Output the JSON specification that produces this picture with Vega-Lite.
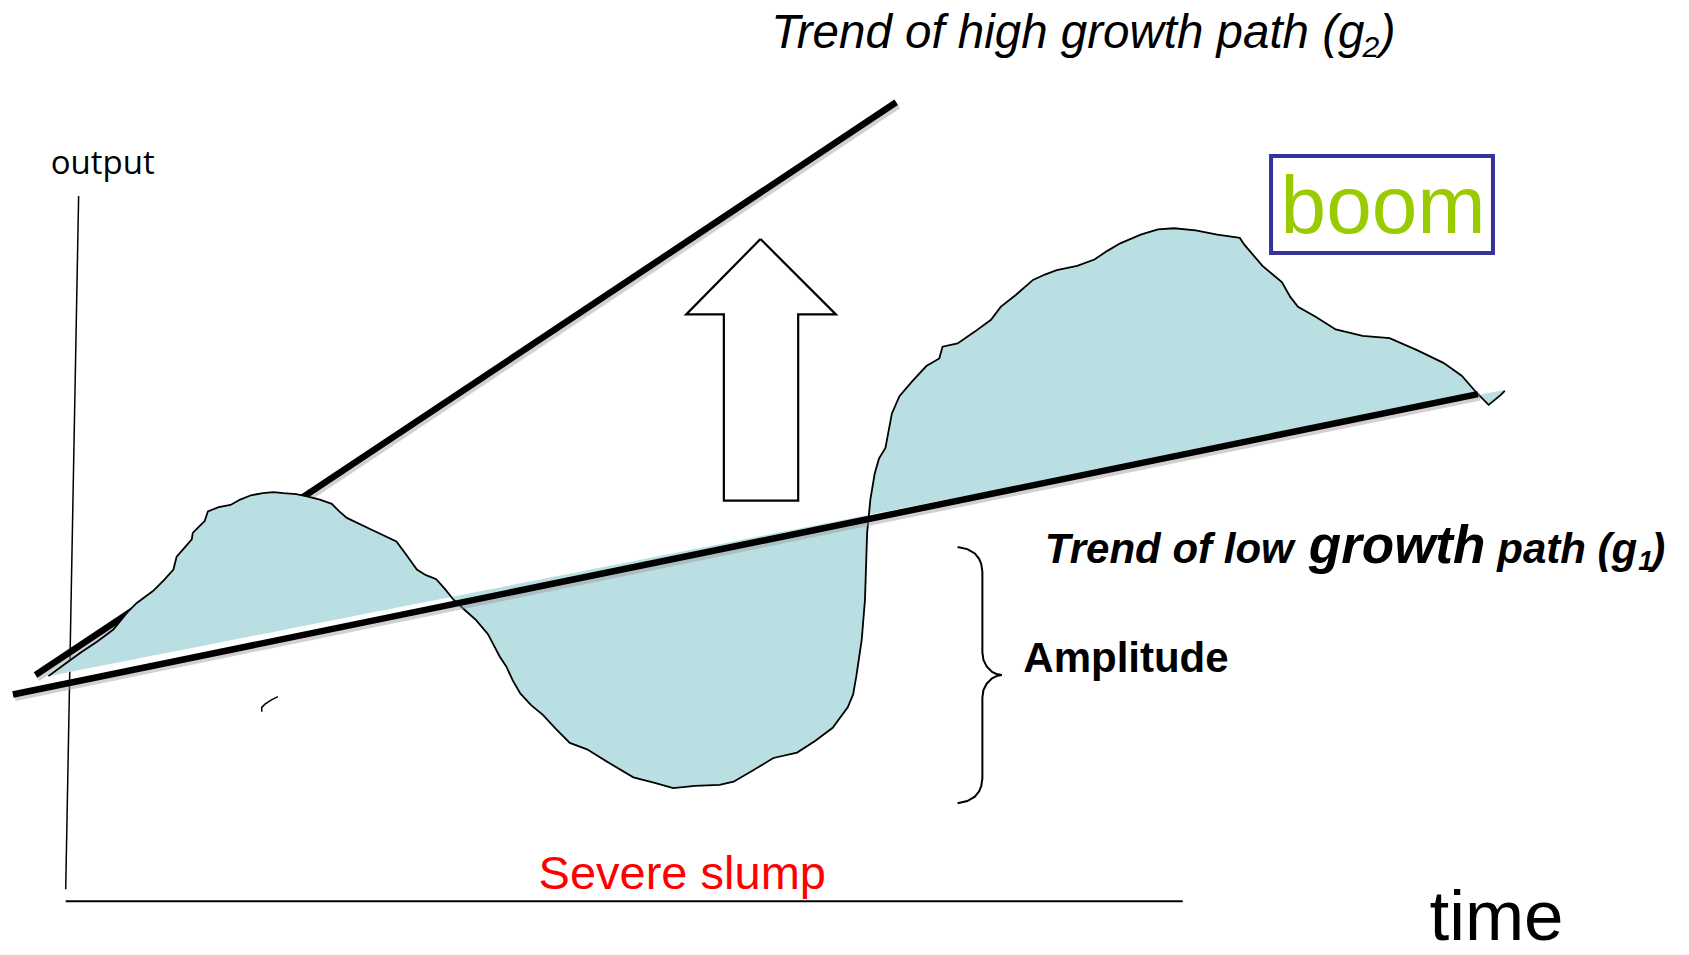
{
  "$schema": "https://vega.github.io/schema/vega-lite/v6.json",
  "width": 1689,
  "height": 955,
  "autosize": {"type": "none"},
  "padding": 0,
  "background": "white",
  "view": {"stroke": null},
  "datasets": {
    "cycle": [
      {"x":45,"y":628,"base":628},{"x":60,"y":617,"base":625.0},{"x":75,"y":606,"base":622.1},{"x":90,"y":596,"base":619.1},
      {"x":105,"y":585,"base":616.2},{"x":118,"y":569,"base":613.6},{"x":127,"y":560,"base":611.9},{"x":142,"y":549,"base":608.9},
      {"x":152,"y":539,"base":606.9},{"x":161,"y":529,"base":605.2},{"x":164,"y":517,"base":604.6},{"x":172,"y":508,"base":603.0},
      {"x":178,"y":501,"base":601.8},{"x":179,"y":495,"base":601.6},{"x":185,"y":489,"base":600.5},{"x":190,"y":484,"base":599.5},
      {"x":193,"y":475,"base":598.9},{"x":203,"y":471,"base":596.9},{"x":214,"y":469,"base":594.7},{"x":223,"y":464,"base":593.0},
      {"x":233,"y":460,"base":591.0},{"x":244,"y":458,"base":588.8},{"x":254,"y":457,"base":586.9},{"x":263,"y":458,"base":585.1},
      {"x":275,"y":459,"base":582.7},{"x":285,"y":461,"base":580.8},{"x":297,"y":464,"base":578.4},{"x":308,"y":468,"base":576.3},
      {"x":315,"y":475,"base":574.9},{"x":322,"y":481,"base":573.5},{"x":345,"y":492,"base":569.0},{"x":368,"y":503,"base":564.4},
      {"x":377,"y":515,"base":562.7},{"x":387,"y":529,"base":560.7},{"x":395,"y":534,"base":559.1},{"x":405,"y":538,"base":557.2},
      {"x":413,"y":547,"base":555.6},{"x":421,"y":557,"base":554.0},{"x":432,"y":567,"base":551.9},{"x":442,"y":576,"base":549.9},
      {"x":453,"y":589,"base":547.7},{"x":464,"y":610,"base":545.6},{"x":470,"y":619,"base":544.4},{"x":476,"y":632,"base":543.2},
      {"x":483,"y":644,"base":541.8},{"x":493,"y":655,"base":539.9},{"x":504,"y":664,"base":537.7},{"x":516,"y":677,"base":535.3},
      {"x":529,"y":690,"base":532.8},{"x":545,"y":696,"base":529.6},{"x":566,"y":709,"base":525.5},{"x":588,"y":722,"base":521.2},
      {"x":607,"y":727,"base":517.4},{"x":625,"y":732,"base":513.9},{"x":645,"y":730,"base":509.9},{"x":668,"y":729,"base":505.4},
      {"x":681,"y":726,"base":502.9},{"x":700,"y":715,"base":499.1},{"x":718,"y":704,"base":495.6},{"x":740,"y":699,"base":491.3},
      {"x":757,"y":688,"base":487.9},{"x":773,"y":676,"base":484.8},{"x":787,"y":657,"base":482.0},{"x":792,"y":645,"base":481.0},
      {"x":795,"y":628,"base":480.4},{"x":800,"y":594,"base":479.5},{"x":803,"y":557,"base":478.9},{"x":805,"y":495,"base":478.5},
      {"x":808,"y":464,"base":477.9},{"x":812,"y":440,"base":477.1},{"x":816,"y":426,"base":476.3},{"x":822,"y":416,"base":475.1},
      {"x":828,"y":384,"base":473.9},{"x":835,"y":368,"base":472.6},{"x":847,"y":354,"base":470.2},{"x":860,"y":340,"base":467.6},
      {"x":872,"y":333,"base":465.3},{"x":875,"y":322,"base":464.7},{"x":889,"y":319,"base":461.9},{"x":905,"y":308,"base":458.8},
      {"x":920,"y":297,"base":455.8},{"x":929,"y":285,"base":454.1},{"x":943,"y":274,"base":451.3},{"x":959,"y":260,"base":448.2},
      {"x":970,"y":255,"base":446.0},{"x":981,"y":251,"base":443.8},{"x":1000,"y":247,"base":440.1},{"x":1016,"y":241,"base":436.9},
      {"x":1028,"y":233,"base":434.6},{"x":1040,"y":226,"base":432.2},{"x":1059,"y":218,"base":428.5},{"x":1075,"y":213,"base":425.3},
      {"x":1090,"y":212,"base":422.4},{"x":1110,"y":214,"base":418.5},{"x":1130,"y":218,"base":414.5},{"x":1151,"y":221,"base":410.4},
      {"x":1155,"y":227,"base":409.6},{"x":1172,"y":247,"base":406.3},{"x":1190,"y":262,"base":402.7},{"x":1198,"y":276,"base":401.1},
      {"x":1205,"y":285,"base":399.8},{"x":1221,"y":294,"base":396.6},{"x":1240,"y":306,"base":392.9},{"x":1265,"y":312,"base":388.0},
      {"x":1290,"y":314,"base":383.0},{"x":1315,"y":325,"base":378.1},{"x":1340,"y":337,"base":373.2},{"x":1357,"y":349,"base":369.9},
      {"x":1371,"y":365,"base":367.1},{"x":1382,"y":376,"base":365.0},{"x":1393,"y":367,"base":362.8},{"x":1397,"y":363,"base":362.0}
    ],
    "g1": [{"x":12,"y":645},{"x":1372,"y":366}],
    "g2": [{"x":33,"y":627},{"x":832,"y":95}],
    "vaxis": [{"x":73,"y":182},{"x":61,"y":826}],
    "haxis": [{"x":61,"y":837},{"x":1098,"y":837}],
    "arrow": [
      {"o":1,"x":706,"y":222},{"o":2,"x":776,"y":292},{"o":3,"x":741,"y":292},{"o":4,"x":741,"y":465},
      {"o":5,"x":672,"y":465},{"o":6,"x":672,"y":292},{"o":7,"x":637,"y":292},{"o":8,"x":706,"y":222}
    ],
    "brace": [
      {"o":1,"x":889,"y":508},{"o":2,"x":898,"y":510},{"o":3,"x":905,"y":514},{"o":4,"x":909,"y":519},{"o":5,"x":911,"y":524},
      {"o":6,"x":912,"y":531},{"o":7,"x":912,"y":606},{"o":8,"x":913,"y":613},{"o":9,"x":916,"y":619},{"o":10,"x":921,"y":624},
      {"o":11,"x":925,"y":626},{"o":12,"x":930,"y":627},{"o":13,"x":925,"y":628},{"o":14,"x":921,"y":630},{"o":15,"x":916,"y":635},
      {"o":16,"x":913,"y":641},{"o":17,"x":912,"y":648},{"o":18,"x":912,"y":723},{"o":19,"x":911,"y":730},{"o":20,"x":909,"y":735},
      {"o":21,"x":905,"y":740},{"o":22,"x":898,"y":744},{"o":23,"x":889,"y":746}
    ],
    "squiggle": [
      {"o":1,"x":243,"y":661},{"o":2,"x":243,"y":657},{"o":3,"x":246,"y":654},{"o":4,"x":252,"y":650},{"o":5,"x":258,"y":647}
    ],
    "box": [{"x":1180,"x2":1386,"y":145,"y2":235}],
    "labels": [
      {"id":"output","x":47,"y":162,"text":"output"},
      {"id":"high","x":716,"y":45,"text":"Trend of high growth path (g"},
      {"id":"high_sub","x":1265,"y":53,"text":"2"},
      {"id":"high_close","x":1281,"y":45,"text":")"},
      {"id":"boom","x":1284,"y":216,"text":"boom"},
      {"id":"low1","x":970,"y":523,"text":"Trend of low"},
      {"id":"low2","x":1215,"y":523,"text":"growth"},
      {"id":"low3","x":1390,"y":523,"text":"path (g"},
      {"id":"low_sub","x":1521,"y":529,"text":"1"},
      {"id":"low_close","x":1533,"y":523,"text":")"},
      {"id":"amp","x":950,"y":624,"text":"Amplitude"},
      {"id":"slump","x":500,"y":826,"text":"Severe slump"},
      {"id":"time","x":1327,"y":873,"text":"time"}
    ]
  },
  "encoding": {
    "x": {"field": "x", "type": "quantitative", "axis": null, "scale": {"domain": [0, 1568], "nice": false, "zero": false}},
    "y": {"field": "y", "type": "quantitative", "axis": null, "scale": {"domain": [0, 887], "nice": false, "zero": false, "reverse": true}}
  },
  "layer": [
    {"data": {"name": "vaxis"}, "mark": {"type": "line", "color": "black", "strokeWidth": 1.5}},
    {"data": {"name": "haxis"}, "mark": {"type": "line", "color": "black", "strokeWidth": 2}},
    {"data": {"name": "g2"}, "mark": {"type": "line", "color": "#999999", "strokeWidth": 7, "opacity": 0.45, "xOffset": 2, "yOffset": 3}},
    {"data": {"name": "g2"}, "mark": {"type": "line", "color": "black", "strokeWidth": 6.5, "strokeCap": "butt"}},
    {"data": {"name": "cycle"}, "mark": {"type": "area", "color": "#badfe3", "opacity": 1},
     "encoding": {"y2": {"field": "base"}}},
    {"data": {"name": "cycle"}, "mark": {"type": "line", "color": "black", "strokeWidth": 1.8}},
    {"data": {"name": "g1"}, "mark": {"type": "line", "color": "#999999", "strokeWidth": 7, "opacity": 0.45, "xOffset": 2, "yOffset": 3}},
    {"data": {"name": "g1"}, "mark": {"type": "line", "color": "black", "strokeWidth": 6.5, "strokeCap": "butt"}},
    {"data": {"name": "arrow"}, "mark": {"type": "line", "color": "black", "strokeWidth": 2.2},
     "encoding": {"order": {"field": "o", "type": "quantitative"}}},
    {"data": {"name": "brace"}, "mark": {"type": "line", "color": "black", "strokeWidth": 2},
     "encoding": {"order": {"field": "o", "type": "quantitative"}}},
    {"data": {"name": "squiggle"}, "mark": {"type": "line", "color": "black", "strokeWidth": 1.5},
     "encoding": {"order": {"field": "o", "type": "quantitative"}}},
    {"data": {"name": "box"}, "mark": {"type": "rect", "fill": "white", "stroke": "#333399", "strokeWidth": 4},
     "encoding": {"x2": {"field": "x2"}, "y2": {"field": "y2"}}},
    {"data": {"name": "labels"}, "transform": [{"filter": "datum.id === 'output'"}],
     "mark": {"type": "text", "align": "left", "baseline": "alphabetic", "font": "Open Sans", "fontSize": 33, "color": "black"},
     "encoding": {"text": {"field": "text"}}},
    {"data": {"name": "labels"}, "transform": [{"filter": "datum.id === 'high' || datum.id === 'high_close'"}],
     "mark": {"type": "text", "align": "left", "baseline": "alphabetic", "font": "Liberation Sans", "fontStyle": "italic", "fontSize": 47.5, "color": "black"},
     "encoding": {"text": {"field": "text"}}},
    {"data": {"name": "labels"}, "transform": [{"filter": "datum.id === 'high_sub'"}],
     "mark": {"type": "text", "align": "left", "baseline": "alphabetic", "font": "Liberation Sans", "fontStyle": "italic", "fontSize": 30, "color": "black"},
     "encoding": {"text": {"field": "text"}}},
    {"data": {"name": "labels"}, "transform": [{"filter": "datum.id === 'boom'"}],
     "mark": {"type": "text", "align": "center", "baseline": "alphabetic", "font": "Liberation Sans", "fontSize": 82, "color": "#99cc00"},
     "encoding": {"text": {"field": "text"}}},
    {"data": {"name": "labels"}, "transform": [{"filter": "datum.id === 'low1' || datum.id === 'low3' || datum.id === 'low_close'"}],
     "mark": {"type": "text", "align": "left", "baseline": "alphabetic", "font": "Liberation Sans", "fontStyle": "italic", "fontWeight": "bold", "fontSize": 42, "color": "black"},
     "encoding": {"text": {"field": "text"}}},
    {"data": {"name": "labels"}, "transform": [{"filter": "datum.id === 'low2'"}],
     "mark": {"type": "text", "align": "left", "baseline": "alphabetic", "font": "Liberation Sans", "fontStyle": "italic", "fontWeight": "bold", "fontSize": 53, "color": "black"},
     "encoding": {"text": {"field": "text"}}},
    {"data": {"name": "labels"}, "transform": [{"filter": "datum.id === 'low_sub'"}],
     "mark": {"type": "text", "align": "left", "baseline": "alphabetic", "font": "Liberation Sans", "fontStyle": "italic", "fontWeight": "bold", "fontSize": 27, "color": "black"},
     "encoding": {"text": {"field": "text"}}},
    {"data": {"name": "labels"}, "transform": [{"filter": "datum.id === 'amp'"}],
     "mark": {"type": "text", "align": "left", "baseline": "alphabetic", "font": "Liberation Sans", "fontWeight": "bold", "fontSize": 42, "color": "black"},
     "encoding": {"text": {"field": "text"}}},
    {"data": {"name": "labels"}, "transform": [{"filter": "datum.id === 'slump'"}],
     "mark": {"type": "text", "align": "left", "baseline": "alphabetic", "font": "Liberation Sans", "fontSize": 47, "color": "#ff0000"},
     "encoding": {"text": {"field": "text"}}},
    {"data": {"name": "labels"}, "transform": [{"filter": "datum.id === 'time'"}],
     "mark": {"type": "text", "align": "left", "baseline": "alphabetic", "font": "Liberation Sans", "fontSize": 71, "color": "black"},
     "encoding": {"text": {"field": "text"}}}
  ]
}
